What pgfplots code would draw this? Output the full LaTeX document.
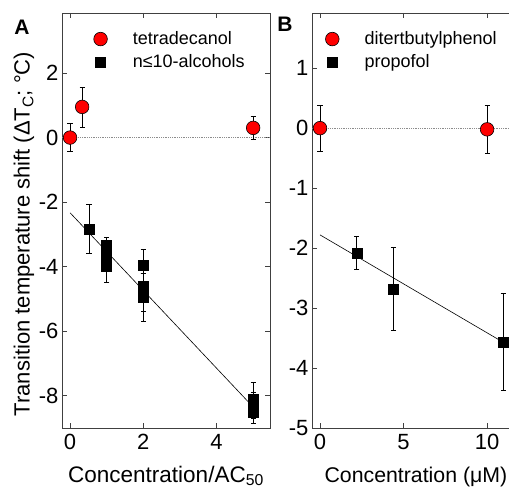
\documentclass[border=0pt]{standalone}
\usepackage{fontspec}
\setmainfont{Liberation Sans}
\usepackage{pgfplots}
\pgfplotsset{compat=1.18}
\definecolor{axgray}{HTML}{404040}
\definecolor{dotgray}{HTML}{8C8C8C}
\pgfplotsset{
  common/.style={
    scale only axis, height=415pt,
    /pgf/number format/assume math mode=true,
    tick label style={font=\fontsize{22}{25}\selectfont, black},
    xticklabel style={yshift=-3pt},
    axis line style={axgray, line width=0.8pt},
    major tick style={axgray, line width=0.8pt},
    major tick length=5pt,
    clip=false,
    legend cell align=left,
    legend style={draw=none, fill=none, font=\fontsize{18}{22}\selectfont, row sep=4.5pt, inner sep=0pt},
    legend image code/.code={\path (0pt,0pt) (38pt,0pt); \draw[##1] plot coordinates {(8pt,0pt)};},
  },
  circ/.style={only marks, mark=*, mark size=6.8pt, mark options={fill=red, draw=black, line width=0.6pt},
    error bars/.cd, y dir=both, y explicit, error bar style={black, line width=0.7pt},
    error mark options={rotate=90, mark size=2.6pt, line width=0.7pt, black}},
  sq/.style={only marks, mark=square*, mark size=5pt, mark options={fill=black, draw=black},
    error bars/.cd, y dir=both, y explicit, error bar style={black, line width=0.7pt},
    error mark options={rotate=90, mark size=2.6pt, line width=0.7pt, black}},
}
\begin{document}
\begin{tikzpicture}
\path[use as bounding box, clip] (0,0) rectangle (509pt,491pt);
% ---------------- Panel A ----------------
\begin{axis}[common, at={(62pt,63pt)}, anchor=south west, width=208pt,
  xmin=-0.22, xmax=5.46, ymin=-9, ymax=3.86,
  xtick={0,2,4}, ytick={-8,-6,-4,-2,0,2},
  legend style={at={(0.145,0.96)}, anchor=north west}]
\addplot[dotgray, densely dotted, line width=0.8pt, forget plot] coordinates {(-0.22,0) (5.46,0)};
\addplot[black, line width=0.6pt, forget plot] coordinates {(0,-2.33) (5,-8.35)};
\addplot[circ] coordinates {
  (0,0.0) +- (0,0.43)
  (0.33,0.95) +- (0,0.62)
  (5,0.3) +- (0,0.35)
};
\addlegendentry{tetradecanol}
\addplot[sq] coordinates {
  (0.52,-2.83) +- (0,0.77)
  (1,-3.35) +- (0,0.27)
  (1,-3.65) +- (0,0.3)
  (1,-4.0) +- (0,0.5)
  (2,-3.95) +- (0,0.5)
  (2,-4.62) +- (0,0.4)
  (2,-4.8) +- (0,0.6)
  (2,-4.95) +- (0,0.75)
  (5,-8.12) +- (0,0.52)
  (5,-8.3) +- (0,0.4)
  (5,-8.5) +- (0,0.35)
};
\addlegendentry{n≤10-alcohols}
\end{axis}
% ---------------- Panel B ----------------
\begin{axis}[common, at={(312pt,63pt)}, anchor=south west, width=198.5pt,
  axis y line*=left, y axis line style={-},
  xmin=-0.48, xmax=11.4, ymin=-5, ymax=1.92,
  xtick={0,5,10}, ytick={-5,-4,-3,-2,-1,0,1},
  legend style={at={(0.06,0.96)}, anchor=north west}]
\addplot[dotgray, densely dotted, line width=0.8pt, forget plot] coordinates {(-0.48,0) (11.4,0)};
\addplot[black, line width=0.6pt, forget plot] coordinates {(0,-1.78) (10.96,-3.57)};
\addplot[circ] coordinates {
  (0,0.0) +- (0,0.38)
  (10,-0.02) +- (0,0.4)
};
\addlegendentry{ditertbutylphenol}
\addplot[sq] coordinates {
  (2.2,-2.08) +- (0,0.27)
  (4.4,-2.68) +- (0,0.7)
  (10.96,-3.57) +- (0,0.81)
};
\addlegendentry{propofol}
\end{axis}
% ---------------- Labels ----------------
\node[rotate=90, font=\fontsize{22}{26}\selectfont] at (24pt,257pt) {Transition temperature shift (ΔT\textsubscript{C}; °C)};
\node[anchor=base, font=\fontsize{22.5}{26}\selectfont] at (166pt,9pt) {Concentration/AC\textsubscript{50}};
\node[anchor=base west, font=\fontsize{21.3}{26}\selectfont] at (321pt,9pt) {Concentration (μM)};
\node[font=\fontsize{21}{24}\selectfont\bfseries] at (22pt,464pt) {A};
\node[font=\fontsize{21}{24}\selectfont\bfseries] at (285pt,467pt) {B};
\end{tikzpicture}
\end{document}
